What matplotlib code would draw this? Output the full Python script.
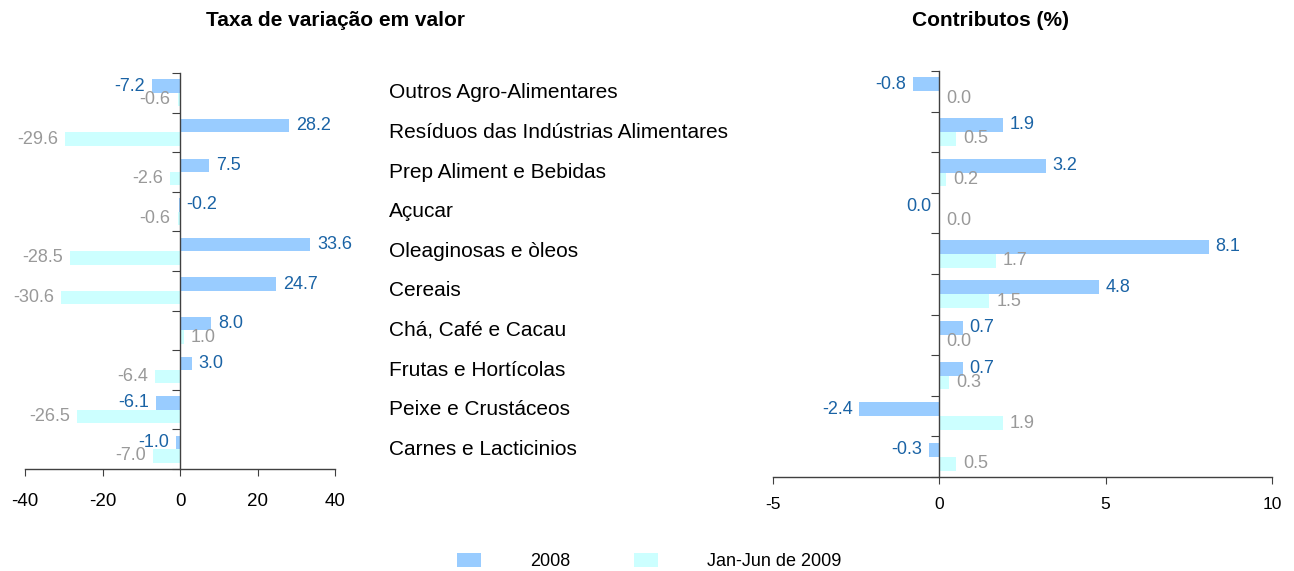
import matplotlib
matplotlib.use("Agg")
import matplotlib.pyplot as plt
from matplotlib.patches import Patch
from matplotlib.transforms import blended_transform_factory

plt.rcParams['font.family'] = ['Liberation Sans', 'DejaVu Sans']
plt.rcParams['axes.unicode_minus'] = False

categories = ["Outros Agro-Alimentares", "Resíduos das Indústrias Alimentares",
              "Prep Aliment e Bebidas", "Açucar", "Oleaginosas e òleos", "Cereais",
              "Chá, Café e Cacau", "Frutas e Hortícolas", "Peixe e Crustáceos",
              "Carnes e Lacticinios"]
series = ["2008", "Jan-Jun de 2009"]
growth_2008 = [-7.2, 28.2, 7.5, -0.2, 33.6, 24.7, 8.0, 3.0, -6.1, -1.0]
growth_2009 = [-0.6, -29.6, -2.6, -0.6, -28.5, -30.6, 1.0, -6.4, -26.5, -7.0]
contrib_2008 = [-0.8, 1.9, 3.2, -0.02, 8.1, 4.8, 0.7, 0.7, -2.4, -0.3]
contrib_2009 = [0.0, 0.5, 0.2, 0.0, 1.7, 1.5, 0.0, 0.3, 1.9, 0.5]

c_bar = ['#99ccff', '#ccffff']
c_txt = ['#1a63a5', '#999999']

fig = plt.figure(figsize=(12.94, 5.71), dpi=100)
ax_l = fig.add_axes([25 / 1294, 1 - 469 / 571, 310 / 1294, 396 / 571])
ax_r = fig.add_axes([773 / 1294, 1 - 477 / 571, 499 / 1294, 406 / 571])

n = len(categories)
h = 0.34


def fmt(v):
    s = f"{v:.1f}"
    return "0.0" if s == "-0.0" else s


def draw(ax, v08, v09, xlim, xticks, tick_fs, tick_pad, force_right=()):
    for k, vals in enumerate([v08, v09]):
        ys = [i + 0.33 + 0.34 * k for i in range(n)]
        ax.barh(ys, vals, height=h, color=c_bar[k], edgecolor='none', zorder=2)
        for i, (y, v) in enumerate(zip(ys, vals)):
            right = v >= 0 or (k, i) in force_right
            ax.annotate(fmt(v), (v, y), xytext=(5 if right else -5, 0),
                        textcoords='offset points', ha='left' if right else 'right',
                        va='center', color=c_txt[k], fontsize=13)
    ax.set_ylim(n, 0)
    ax.set_xlim(*xlim)
    ax.set_xticks(xticks)
    ax.set_yticks(range(n + 1))
    ax.set_yticklabels([])
    ax.spines['left'].set_position(('data', 0))
    ax.spines['right'].set_visible(False)
    ax.spines['top'].set_visible(False)
    for s in ['left', 'bottom']:
        ax.spines[s].set_color('#404040')
        ax.spines[s].set_linewidth(1.0)
    ax.tick_params(axis='both', direction='out', length=5, color='#404040')
    ax.tick_params(axis='x', labelsize=tick_fs, pad=tick_pad)
    ax.tick_params(axis='y', length=6)
    ax.set_facecolor('none')


draw(ax_l, growth_2008, growth_2009, (-40, 40), [-40, -20, 0, 20, 40], 13.5, 12,
     force_right={(0, 3)})
draw(ax_r, contrib_2008, contrib_2009, (-5, 10), [-5, 0, 5, 10], 12.5, 9.5)

fig.text(335 / 1294, 1 - 21 / 571, "Taxa de variação em valor", ha='center',
         va='center', fontsize=15, fontweight='bold')
fig.text(990 / 1294, 1 - 21 / 571, "Contributos (%)", ha='center',
         va='center', fontsize=15, fontweight='bold')

tr = blended_transform_factory(fig.transFigure, ax_l.transData)
for i, c in enumerate(categories):
    fig.text(389 / 1294, i + 0.5, c, transform=tr, ha='left', va='center',
             fontsize=15)

handles = [Patch(facecolor=c_bar[k], edgecolor='none') for k in range(2)]
fig.legend(handles, series, loc='center left',
           bbox_to_anchor=(457 / 1294, 9.5 / 571), ncol=2, frameon=False,
           fontsize=13, handlelength=1.33, handleheight=0.83,
           handletextpad=2.7, columnspacing=3.55, borderpad=0, borderaxespad=0)

fig.savefig("out.png", dpi=100)
